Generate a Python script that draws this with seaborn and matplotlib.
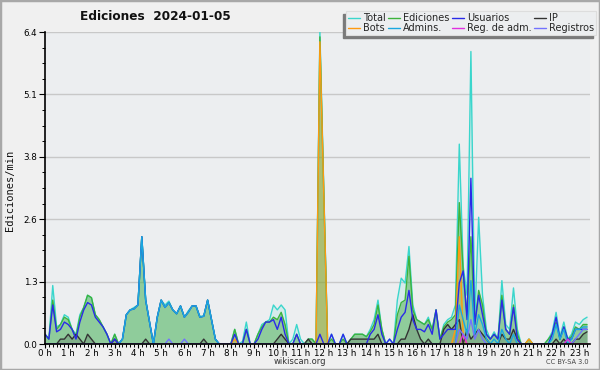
import matplotlib
matplotlib.use('Agg')
import matplotlib.pyplot as plt
import matplotlib.patches as mpatches
from matplotlib.lines import Line2D
from matplotlib.ticker import FixedLocator, MultipleLocator
import seaborn as sns
import numpy as np

# edits per minute, 10-minute bins from 0h00 to 23h20
total = [0.2, 0.1, 1.2, 0.35, 0.4, 0.6, 0.55, 0.3, 0.2, 0.6, 0.75, 1.0,
         0.95, 0.6, 0.5, 0.35, 0.2, 0.0, 0.2, 0.0, 0.1, 0.6, 0.7,
         0.75, 0.8, 2.2, 0.9, 0.45, 0.0, 0.55, 0.9, 0.8, 0.88, 0.7, 0.62,
         0.78, 0.55, 0.68, 0.78, 0.78, 0.57, 0.57, 0.9, 0.5, 0.1, 0.0, 0.0,
         0.0, 0.0, 0.3, 0.0, 0.05, 0.45, 0.0, 0.0, 0.2, 0.4, 0.45, 0.5,
         0.8, 0.7, 0.8, 0.7, 0.0, 0.1, 0.4, 0.1, 0.0, 0.1, 0.1,
         0.0, 6.4, 3.2, 0.0, 0.2, 0.0, 0.0, 0.2, 0.0, 0.1, 0.2, 0.2,
         0.2, 0.15, 0.3, 0.5, 0.9, 0.3, 0.0, 0.1, 0.0, 0.9, 1.35, 1.25,
         2.0, 0.8, 0.5, 0.45, 0.4, 0.55, 0.3, 0.7, 0.1, 0.4, 0.5, 0.55,
         0.8, 4.1, 1.6, 1.0, 6.0, 0.5, 2.6, 1.0, 0.3, 0.1, 0.25, 0.1,
         1.3, 0.4, 0.3, 1.15, 0.3, 0.0, 0.0, 0.1, 0.0, 0.0, 0.0,
         0.0, 0.1, 0.25, 0.65, 0.15, 0.45, 0.1, 0.2, 0.45, 0.4, 0.5, 0.55]
ediciones = [0.2, 0.1, 0.9, 0.3, 0.4, 0.55, 0.5, 0.3, 0.15, 0.55, 0.75, 1.0,
             0.95, 0.6, 0.5, 0.35, 0.2, 0.0, 0.2, 0.0, 0.1, 0.6, 0.7,
             0.72, 0.8, 2.2, 0.9, 0.45, 0.0, 0.55, 0.9, 0.75, 0.85, 0.7, 0.62,
             0.78, 0.55, 0.65, 0.78, 0.78, 0.55, 0.57, 0.9, 0.5, 0.1, 0.0, 0.0,
             0.0, 0.0, 0.3, 0.0, 0.0, 0.3, 0.0, 0.0, 0.2, 0.35, 0.45, 0.45,
             0.55, 0.5, 0.65, 0.4, 0.0, 0.0, 0.2, 0.0, 0.0, 0.1, 0.1,
             0.0, 6.3, 3.1, 0.0, 0.1, 0.0, 0.0, 0.1, 0.0, 0.1, 0.2, 0.2,
             0.2, 0.15, 0.25, 0.4, 0.8, 0.3, 0.0, 0.0, 0.0, 0.6, 0.85, 0.9,
             1.8, 0.7, 0.5, 0.45, 0.4, 0.5, 0.3, 0.7, 0.1, 0.35, 0.45, 0.5,
             0.6, 2.9, 1.5, 0.6, 2.2, 0.4, 1.1, 0.8, 0.2, 0.1, 0.2, 0.1,
             1.0, 0.3, 0.2, 0.8, 0.2, 0.0, 0.0, 0.1, 0.0, 0.0, 0.0,
             0.0, 0.1, 0.2, 0.45, 0.1, 0.35, 0.1, 0.15, 0.35, 0.3, 0.4, 0.4]
usuarios = [0.2, 0.1, 0.8, 0.25, 0.3, 0.45, 0.4, 0.3, 0.1, 0.45, 0.7, 0.85,
            0.8, 0.55, 0.45, 0.35, 0.2, 0.0, 0.1, 0.0, 0.1, 0.6, 0.7,
            0.72, 0.8, 2.2, 0.9, 0.45, 0.0, 0.55, 0.9, 0.75, 0.85, 0.7, 0.62,
            0.78, 0.55, 0.65, 0.78, 0.78, 0.55, 0.57, 0.9, 0.5, 0.1, 0.0, 0.0,
            0.0, 0.0, 0.2, 0.0, 0.0, 0.3, 0.0, 0.0, 0.1, 0.3, 0.45, 0.45,
            0.5, 0.3, 0.55, 0.2, 0.0, 0.0, 0.2, 0.0, 0.0, 0.0, 0.0,
            0.0, 0.2, 0.0, 0.0, 0.2, 0.0, 0.0, 0.2, 0.0, 0.0, 0.0, 0.0,
            0.0, 0.0, 0.2, 0.3, 0.6, 0.2, 0.0, 0.1, 0.0, 0.3, 0.55, 0.65,
            1.1, 0.5, 0.3, 0.3, 0.25, 0.4, 0.2, 0.7, 0.1, 0.2, 0.3, 0.3,
            0.3, 1.25, 1.5, 0.5, 3.4, 0.4, 1.0, 0.6, 0.2, 0.1, 0.2, 0.1,
            0.9, 0.3, 0.2, 0.75, 0.1, 0.0, 0.0, 0.0, 0.0, 0.0, 0.0,
            0.0, 0.0, 0.2, 0.55, 0.1, 0.35, 0.1, 0.1, 0.3, 0.3, 0.3, 0.3]
ip = [0.0, 0.0, 0.0, 0.0, 0.1, 0.1, 0.2, 0.1, 0.2, 0.1, 0.0, 0.2,
      0.1, 0.0, 0.0, 0.0, 0.0, 0.0, 0.1, 0.0, 0.0, 0.0, 0.0,
      0.0, 0.0, 0.0, 0.1, 0.0, 0.0, 0.0, 0.0, 0.0, 0.0, 0.0, 0.0,
      0.0, 0.0, 0.0, 0.0, 0.0, 0.0, 0.1, 0.0, 0.0, 0.0, 0.0, 0.0,
      0.0, 0.0, 0.0, 0.0, 0.0, 0.0, 0.0, 0.0, 0.0, 0.0, 0.0, 0.0,
      0.0, 0.1, 0.2, 0.1, 0.0, 0.0, 0.0, 0.0, 0.0, 0.1, 0.0,
      0.0, 0.0, 0.0, 0.0, 0.0, 0.0, 0.0, 0.0, 0.0, 0.1, 0.1, 0.1,
      0.1, 0.1, 0.1, 0.1, 0.2, 0.0, 0.0, 0.0, 0.0, 0.0, 0.1, 0.1,
      0.3, 0.6, 0.3, 0.1, 0.0, 0.1, 0.0, 0.0, 0.0, 0.3, 0.4, 0.3,
      0.4, 0.5, 0.0, 0.3, 0.1, 0.2, 0.3, 0.2, 0.1, 0.0, 0.0, 0.0,
      0.2, 0.1, 0.1, 0.3, 0.1, 0.0, 0.0, 0.0, 0.0, 0.0, 0.0,
      0.0, 0.0, 0.0, 0.1, 0.0, 0.1, 0.0, 0.0, 0.1, 0.1, 0.2, 0.25]
bots = [0.0, 0.0, 0.0, 0.0, 0.0, 0.0, 0.0, 0.0, 0.0, 0.0, 0.0, 0.0,
        0.0, 0.0, 0.0, 0.0, 0.0, 0.0, 0.0, 0.0, 0.0, 0.0, 0.0,
        0.0, 0.0, 0.0, 0.0, 0.0, 0.0, 0.0, 0.0, 0.0, 0.0, 0.0, 0.0,
        0.0, 0.0, 0.0, 0.0, 0.0, 0.0, 0.0, 0.0, 0.0, 0.0, 0.0, 0.0,
        0.0, 0.0, 0.1, 0.0, 0.0, 0.0, 0.0, 0.0, 0.0, 0.0, 0.0, 0.0,
        0.0, 0.0, 0.0, 0.0, 0.0, 0.0, 0.0, 0.0, 0.0, 0.0, 0.0,
        0.0, 6.2, 3.1, 0.0, 0.0, 0.0, 0.0, 0.0, 0.0, 0.0, 0.0, 0.0,
        0.0, 0.0, 0.0, 0.0, 0.0, 0.0, 0.0, 0.0, 0.0, 0.0, 0.0, 0.0,
        0.0, 0.0, 0.0, 0.0, 0.0, 0.0, 0.0, 0.0, 0.0, 0.0, 0.0, 0.0,
        0.3, 2.2, 0.2, 0.0, 0.0, 0.0, 0.0, 0.0, 0.0, 0.0, 0.0, 0.0,
        0.0, 0.0, 0.0, 0.0, 0.0, 0.0, 0.0, 0.1, 0.0, 0.0, 0.0,
        0.0, 0.0, 0.0, 0.0, 0.0, 0.0, 0.0, 0.0, 0.0, 0.0, 0.0, 0.0]
admins = [0.0, 0.0, 0.0, 0.0, 0.0, 0.0, 0.0, 0.0, 0.0, 0.0, 0.0, 0.0,
          0.0, 0.0, 0.0, 0.0, 0.0, 0.0, 0.0, 0.0, 0.1, 0.6, 0.7,
          0.72, 0.8, 2.2, 0.9, 0.45, 0.0, 0.55, 0.9, 0.75, 0.85, 0.7, 0.62,
          0.78, 0.55, 0.65, 0.78, 0.78, 0.55, 0.57, 0.9, 0.5, 0.1, 0.0, 0.0,
          0.0, 0.0, 0.0, 0.0, 0.0, 0.0, 0.0, 0.0, 0.0, 0.0, 0.0, 0.0,
          0.0, 0.0, 0.0, 0.0, 0.0, 0.0, 0.0, 0.0, 0.0, 0.0, 0.0,
          0.0, 0.0, 0.0, 0.0, 0.0, 0.0, 0.0, 0.0, 0.0, 0.0, 0.0, 0.0,
          0.0, 0.0, 0.0, 0.0, 0.0, 0.0, 0.0, 0.0, 0.0, 0.0, 0.0, 0.0,
          0.0, 0.0, 0.0, 0.0, 0.0, 0.0, 0.0, 0.0, 0.0, 0.0, 0.0, 0.0,
          0.0, 0.8, 0.5, 0.2, 1.3, 0.2, 0.6, 0.4, 0.1, 0.0, 0.1, 0.0,
          0.3, 0.1, 0.0, 0.2, 0.0, 0.0, 0.0, 0.0, 0.0, 0.0, 0.0,
          0.0, 0.0, 0.1, 0.4, 0.1, 0.3, 0.0, 0.1, 0.3, 0.3, 0.35, 0.35]
reg_adm = [0.0] * 108 + [0.2] + [0.0] * 26 + [0.1] + [0.0] * 5
registros = [0.0, 0.0, 0.0, 0.0, 0.0, 0.0, 0.0, 0.0, 0.0, 0.0, 0.0, 0.0,
             0.0, 0.0, 0.0, 0.0, 0.0, 0.0, 0.0, 0.0, 0.0, 0.0, 0.0,
             0.0, 0.0, 0.0, 0.0, 0.0, 0.0, 0.0, 0.0, 0.0, 0.1, 0.0, 0.0,
             0.0, 0.1, 0.0, 0.0, 0.0, 0.0, 0.0, 0.0, 0.0, 0.0, 0.0, 0.0,
             0.0, 0.0, 0.0, 0.0, 0.0, 0.0, 0.0, 0.0, 0.0, 0.0, 0.0, 0.0,
             0.0, 0.0, 0.0, 0.0, 0.0, 0.0, 0.0, 0.0, 0.0, 0.0, 0.0,
             0.0, 0.0, 0.0, 0.0, 0.0, 0.0, 0.0, 0.0, 0.0, 0.0, 0.0, 0.0,
             0.0, 0.0, 0.0, 0.0, 0.0, 0.0, 0.0, 0.0, 0.0, 0.0, 0.0, 0.0,
             0.0, 0.0, 0.0, 0.0, 0.0, 0.0, 0.0, 0.0, 0.0, 0.0, 0.0, 0.0,
             0.0, 0.3, 0.2, 0.1, 0.5, 0.1, 0.3, 0.1, 0.0, 0.0, 0.0, 0.0,
             0.0, 0.0, 0.0, 0.0, 0.0, 0.0, 0.0, 0.0, 0.0, 0.0, 0.0,
             0.0, 0.0, 0.0, 0.0, 0.0, 0.0, 0.0, 0.0, 0.1, 0.2, 0.3, 0.3]

hour_labels = [f"{h} h" for h in range(24)]
y_ticks = [0.0, 1.28, 2.56, 3.84, 5.12, 6.4]

hours = np.arange(len(total)) * 10 / 60

sns.set_style("white", {"axes.facecolor": "#eceef0", "figure.facecolor": "#f0f0f0"})
plt.rcParams['font.family'] = ['DejaVu Sans']

fig = plt.figure(figsize=(6, 3.7), dpi=100)
ax = fig.add_axes([45 / 600, 26 / 370, 545 / 600, 312 / 370])

# filled areas
ax.fill_between(hours, total, color='#40d8cc', alpha=0.13, lw=0)
ax.fill_between(hours, ediciones, color='#3aa83a', alpha=0.45, lw=0)
ax.fill_between(hours, bots, color='#ff9900', alpha=0.25, lw=0)
ax.fill_between(hours, ip, color='#444444', alpha=0.2, lw=0)

series = [
    ('Total', total, '#3ad6cc'),
    ('Ediciones', ediciones, '#3cb33c'),
    ('Bots', bots, '#ff9a10'),
    ('IP', ip, '#333333'),
    ('Usuarios', usuarios, '#2a2ae8'),
    ('Admins.', admins, '#1aa8e0'),
    ('Reg. de adm.', reg_adm, '#e030e0'),
    ('Registros', registros, '#7272ff'),
]
for name, vals, col in series:
    sns.lineplot(x=hours, y=vals, ax=ax, color=col, lw=1.0, estimator=None)

ax.set_xlim(0, 23.46)
ax.set_ylim(0, 6.4)
ax.set_xlabel('')
ax.set_ylabel('')

ax.xaxis.set_major_locator(FixedLocator(range(24)))
ax.set_xticklabels(hour_labels)
ax.xaxis.set_minor_locator(MultipleLocator(1 / 6))
ax.yaxis.set_major_locator(FixedLocator(y_ticks))
ax.set_yticklabels([f"{v:.1f}" for v in y_ticks])
ax.yaxis.set_minor_locator(MultipleLocator(0.32))

ax.tick_params(axis='both', which='major', labelsize=6.3, length=3, width=0.8,
               direction='out', colors='black', pad=0.8, bottom=True, left=True)
ax.tick_params(axis='y', which='major', length=4, pad=1.5)
ax.tick_params(axis='both', which='minor', length=2.5, width=0.7,
               direction='out', color='black', bottom=True, left=True)
ax.yaxis.grid(True, color='#c8c8c8', lw=1)
ax.set_axisbelow(True)
for s in ['top', 'right']:
    ax.spines[s].set_visible(False)
for s in ['left', 'bottom']:
    ax.spines[s].set_color('black')
    ax.spines[s].set_linewidth(1.2)

# texts
fig.text(155 / 600, 1 - 17 / 370, 'Ediciones  2024-01-05', ha='center', va='center',
         fontsize=8.7, fontweight='bold', color='#111111')
fig.text(10 / 600, 1 - 190 / 370, 'Ediciones/min', rotation=90, ha='center', va='center',
         fontsize=7.5, family='DejaVu Sans Mono', color='#111111')
fig.text(300 / 600, 1 - 362 / 370, 'wikiscan.org', ha='center', va='center',
         fontsize=6, color='#333333')
fig.text(589 / 600, 1 - 362 / 370, 'CC BY-SA 3.0', ha='right', va='center',
         fontsize=4.8, color='#444444')

# legend
order = ['Total', 'Bots', 'Ediciones', 'Admins.', 'Usuarios', 'Reg. de adm.', 'IP', 'Registros']
colors = {n: c for n, _, c in series}
handles = [Line2D([], [], color=colors[n], lw=1.0) for n in order]
leg = fig.legend(handles, order, loc='upper right', bbox_to_anchor=(596 / 600, 1 - 11 / 370),
                 ncol=4, fontsize=7, frameon=True, fancybox=False, edgecolor='#dddddd',
                 framealpha=1, handlelength=1.2, columnspacing=0.3, handletextpad=0.3,
                 borderpad=0.2, labelspacing=0.0, borderaxespad=0)
leg.get_frame().set_linewidth(0.8)
leg.set_zorder(5)

fig.canvas.draw()
bb = leg.get_window_extent().transformed(fig.transFigure.inverted())
shadow = mpatches.Rectangle((bb.x0 - 3 / 600, bb.y0 - 3 / 370), bb.width, bb.height,
                            transform=fig.transFigure, color='#7a7a7a', zorder=4)
fig.patches.append(shadow)

border = mpatches.Rectangle((0, 0), 1, 1, transform=fig.transFigure, fill=False,
                            edgecolor='#a8a8a8', lw=2.5, zorder=10)
fig.patches.append(border)

fig.savefig('out.png', dpi=100, facecolor=fig.get_facecolor())
plt.close(fig)
